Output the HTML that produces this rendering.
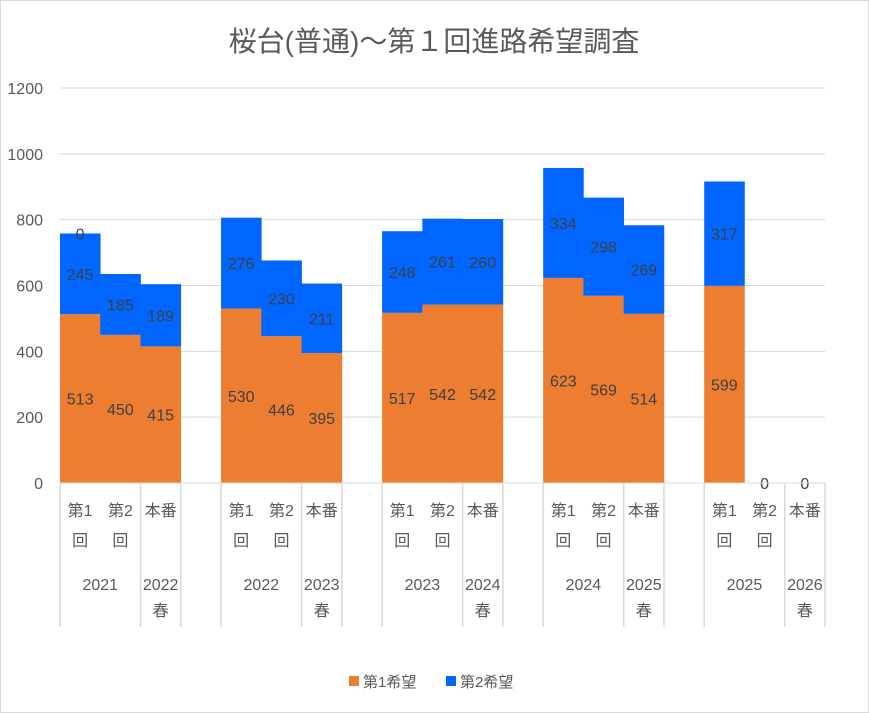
<!DOCTYPE html>
<html><head><meta charset="utf-8"><style>
body{margin:0;background:#fff}
svg{display:block;font-family:"Liberation Sans","Noto Sans CJK JP",sans-serif}
</style></head><body>
<svg id="c" width="869" height="713">
<rect x="0.5" y="0.5" width="868" height="712" fill="#fff" stroke="#d9d9d9"/>
<text x="434" y="51" text-anchor="middle" font-size="28" fill="#595959">桜台(普通)～第１回進路希望調査</text>
<g id="grid"></g><g id="bars"></g><g id="axis"></g>
<g>
<rect x="349" y="676" width="10" height="10" fill="#ED7D31"/>
<text x="363" y="687" font-size="15" fill="#595959">第1希望</text>
<rect x="446" y="676" width="10" height="10" fill="#0066FF"/>
<text x="460" y="687" font-size="15" fill="#595959">第2希望</text>
</g>
</svg>
<script>
const years=["2021","2022","2023","2024","2025"];
const springLabels=["2022","2023","2024","2025","2026"];
const first=[[513,450,415],[530,446,395],[517,542,542],[623,569,514],[599,0,0]];
const second=[[245,185,189],[276,230,211],[248,261,260],[334,298,269],[317,0,0]];
const ticks=[0,200,400,600,800,1000,1200];
const NS="http://www.w3.org/2000/svg";
const X0=60,X1=825,Y0=483,YT=88,MAX=1200,SLOT=(X1-X0)/19;
const y=v=>Y0-(v/MAX)*(Y0-YT);
const sx=(g,i)=>X0+(g*4+i)*SLOT;
function mk(tag,attrs,parent,txt){const e=document.createElementNS(NS,tag);for(const k in attrs)e.setAttribute(k,attrs[k]);if(txt!==undefined)e.textContent=txt;parent.appendChild(e);return e;}
const grid=document.getElementById('grid'),bars=document.getElementById('bars'),axis=document.getElementById('axis');
ticks.forEach(t=>{
 if(t>0){const l=mk('line',{x1:X0,x2:X1,y1:y(t),y2:y(t),stroke:'#d9d9d9'},grid);
 
 }
 const tx=mk('text',{x:43,y:y(t)+6,'text-anchor':'end','font-size':16,fill:'#595959'},grid,String(t));
 
 
});
first.forEach((grp,g)=>{grp.forEach((v1,i)=>{
 const v2=second[g][i],x=sx(g,i),cx=x+SLOT/2;
 const r1=mk('rect',{x:x,y:y(v1),width:SLOT+0.3,height:Y0-y(v1),fill:'#ED7D31'},bars);
 
 
 const r2=mk('rect',{x:x,y:y(v1+v2),width:SLOT+0.3,height:y(v1)-y(v1+v2),fill:'#0066FF'},bars);
 
 
 if(v1+v2===0){
  const z=mk('text',{x:cx,y:Y0+6,'text-anchor':'middle','font-size':16,fill:'#404040'},bars,'0');
  
  
 }else{
  const a=mk('text',{x:cx,y:(y(0)+y(v1))/2+6,'text-anchor':'middle','font-size':16,fill:'#404040'},bars,String(v1));
  
  
  const b=mk('text',{x:cx,y:(y(v1)+y(v1+v2))/2+6,'text-anchor':'middle','font-size':16,fill:'#404040'},bars,String(v2));
  
  
 }
});});
const zt=mk('text',{x:sx(0,0)+SLOT/2,y:y(first[0][0]+second[0][0])+6,'text-anchor':'middle','font-size':16,fill:'#404040'},bars,'0');


const ax=mk('line',{x1:X0,x2:X1,y1:Y0,y2:Y0,stroke:'#d9d9d9'},axis);


years.forEach((yr,g)=>{
 [sx(g,0),sx(g,2),sx(g,3)].forEach(xx=>{
  const l=mk('line',{x1:xx,x2:xx,y1:Y0,y2:627,stroke:'#d9d9d9','stroke-width':1.5},axis);
  
  
 });
 const labs=[["第1","回"],["第2","回"],["本番",""]];
 labs.forEach((lb,i)=>{
  const cx=sx(g,i)+SLOT/2;
  const t1=mk('text',{x:cx,y:516,'text-anchor':'middle','font-size':16,fill:'#595959'},axis,lb[0]);
  
  
  if(lb[1]){const t2=mk('text',{x:cx,y:546,'text-anchor':'middle','font-size':16,fill:'#595959'},axis,lb[1]);
  
  }
 });
 const yl=mk('text',{x:sx(g,1),y:590,'text-anchor':'middle','font-size':16,fill:'#595959'},axis,yr);
 
 
 const sp=mk('text',{x:sx(g,2)+SLOT/2,y:590,'text-anchor':'middle','font-size':16,fill:'#595959'},axis,springLabels[g]);
 
 
 const sp2=mk('text',{x:sx(g,2)+SLOT/2,y:616,'text-anchor':'middle','font-size':16,fill:'#595959'},axis,'春');
 
 
});
</script>
</body></html>
